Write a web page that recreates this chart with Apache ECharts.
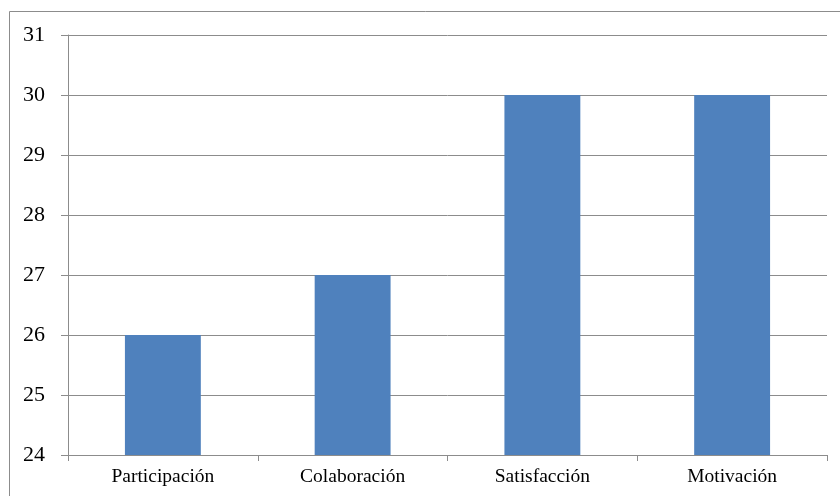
<!DOCTYPE html>
<html>
<head>
<meta charset="utf-8">
<script src="https://cdn.jsdelivr.net/npm/echarts@6/dist/echarts.min.js"></script>
<style>html,body{margin:0;padding:0;background:#fff;}#c{width:840px;height:496px;}</style>
</head>
<body>
<div id="c"></div>
<script>
const categories = ["Participación", "Colaboración", "Satisfacción", "Motivación"];
const values = [26, 27, 30, 30];
const yMin = 24, yMax = 31, yStep = 1;

const chart = echarts.init(document.getElementById('c'), null, {renderer: 'canvas'});
chart.setOption({
  animation: false,
  backgroundColor: '#ffffff',
  graphic: [{
    type: 'rect',
    shape: {x: 9.5, y: 11.5, width: 1000, height: 1000},
    style: {fill: 'none', stroke: '#8c8c8c', lineWidth: 1},
    silent: true, z: -1
  }],
  grid: {left: 68, right: 13, top: 35, bottom: 41, containLabel: false},
  xAxis: {
    type: 'category',
    data: categories,
    axisLine: {lineStyle: {color: '#8c8c8c', width: 1}},
    axisTick: {show: true, length: 6, alignWithLabel: false, lineStyle: {color: '#8c8c8c'}},
    axisLabel: {color: '#000', fontFamily: 'Liberation Serif', fontSize: 19.5, margin: 12}
  },
  yAxis: {
    type: 'value',
    min: yMin, max: yMax, interval: yStep,
    axisLine: {show: true, lineStyle: {color: '#8c8c8c', width: 1}},
    axisTick: {show: true, length: 7, lineStyle: {color: '#8c8c8c'}},
    splitLine: {show: true, lineStyle: {color: '#8c8c8c', width: 1}},
    axisLabel: {color: '#000', fontFamily: 'Liberation Serif', fontSize: 22, margin: 23}
  },
  series: [{
    type: 'bar',
    data: values,
    barWidth: '40%',
    itemStyle: {color: '#4F81BD'}
  }]
});
</script>
</body>
</html>
